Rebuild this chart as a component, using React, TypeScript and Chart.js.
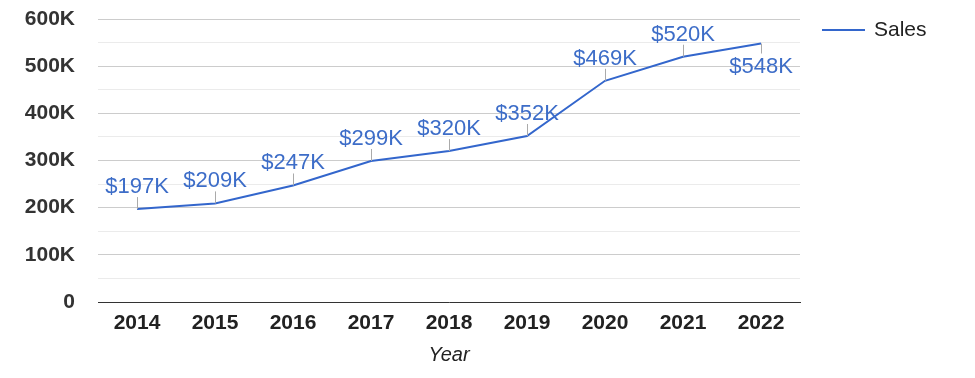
import React, { useEffect, useRef } from "react";
import { Chart, registerables } from "chart.js";

Chart.register(...registerables);

const years = ["2014", "2015", "2016", "2017", "2018", "2019", "2020", "2021", "2022"];
const sales = [197000, 209000, 247000, 299000, 320000, 352000, 469000, 520000, 548000];
const labelBelow = [false, false, false, false, false, false, false, false, true];
const seriesName = "Sales";
const axisTitle = "Year";

const FONT = "'Liberation Sans', Arial, sans-serif";
const LINE_COLOR = "#3366cc";
const LABEL_COLOR = "#3d6dc8";

const fmtK = (v: number) => (v === 0 ? "0" : `${Math.round(v / 1000)}K`);

const labelPlugin = {
  id: "valueLabels",
  afterDatasetsDraw(chart: any) {
    const { ctx } = chart;
    const meta = chart.getDatasetMeta(0);
    const data = chart.data.datasets[0].data as number[];
    ctx.save();
    ctx.font = `22px ${FONT}`;
    ctx.textAlign = "center";
    meta.data.forEach((pt: any, i: number) => {
      const x = Math.round(pt.x) + 0.5;
      const y = pt.y;
      const below = labelBelow[i];
      ctx.strokeStyle = "#aaaaaa";
      ctx.lineWidth = 1;
      ctx.beginPath();
      if (below) {
        ctx.moveTo(x, y);
        ctx.lineTo(x, y + 10);
      } else {
        ctx.moveTo(x, y);
        ctx.lineTo(x, y - 12);
      }
      ctx.stroke();
      ctx.fillStyle = LABEL_COLOR;
      const txt = `$${Math.round(data[i] / 1000)}K`;
      ctx.textBaseline = "alphabetic";
      if (below) {
        ctx.fillText(txt, pt.x, y + 29);
      } else {
        ctx.fillText(txt, pt.x, y - 16);
      }
    });
    ctx.restore();
  },
};

const legendPlugin = {
  id: "customLegend",
  afterDraw(chart: any) {
    const { ctx } = chart;
    ctx.save();
    ctx.strokeStyle = LINE_COLOR;
    ctx.lineWidth = 2;
    ctx.beginPath();
    ctx.moveTo(822, 30);
    ctx.lineTo(865, 30);
    ctx.stroke();
    ctx.fillStyle = "#222222";
    ctx.font = `21px ${FONT}`;
    ctx.textAlign = "left";
    ctx.textBaseline = "middle";
    ctx.fillText(chart.data.datasets[0].label, 874, 30);
    ctx.restore();
  },
};

export default function App() {
  const ref = useRef<HTMLCanvasElement | null>(null);
  useEffect(() => {
    document.body.style.margin = "0";
    const chart = new Chart(ref.current as HTMLCanvasElement, {
      type: "line",
      data: {
        labels: years,
        datasets: [
          {
            label: seriesName,
            data: sales,
            borderColor: LINE_COLOR,
            backgroundColor: LINE_COLOR,
            borderWidth: 2,
            pointRadius: 0,
            tension: 0,
          },
        ],
      },
      options: {
        animation: false,
        responsive: false,
        maintainAspectRatio: false,
        layout: { padding: { left: 0, top: 19, right: 175, bottom: 0 } },
        plugins: { legend: { display: false }, tooltip: { enabled: false } },
        scales: {
          x: {
            offset: true,
            grid: { display: false, drawTicks: false },
            border: { display: true, color: "#333333", width: 1 },
            ticks: {
              color: "#222222",
              font: { family: FONT, size: 21, weight: "bold" },
              padding: 9,
              maxRotation: 0,
              autoSkip: false,
            },
            title: {
              display: true,
              text: axisTitle,
              color: "#222222",
              font: { family: FONT, size: 20, style: "italic" },
              padding: { top: 0, bottom: 11 },
            },
            afterFit: (scale: any) => {
              scale.height = 76;
            },
          },
          y: {
            min: 0,
            max: 600000,
            grid: {
              drawTicks: false,
              color: (c: any) => (c.tick && c.tick.value % 100000 === 0 ? "#cccccc" : "#ebebeb"),
            },
            border: { display: false },
            ticks: {
              stepSize: 50000,
              autoSkip: false,
              color: "#333333",
              padding: 23,
              font: { family: FONT, size: 21, weight: "bold" },
              callback: (v: any) => (Number(v) % 100000 === 0 ? fmtK(Number(v)) : ""),
            },
            afterFit: (scale: any) => {
              scale.width = 98;
              scale.paddingTop = 0;
              scale.paddingBottom = 0;
            },
          },
        },
      },
      plugins: [labelPlugin, legendPlugin],
    } as any);
    return () => chart.destroy();
  }, []);
  return (
    <div style={{ width: 975, height: 378, background: "#fff" }}>
      <canvas ref={ref} width={975} height={378} style={{ display: "block" }} />
    </div>
  );
}
